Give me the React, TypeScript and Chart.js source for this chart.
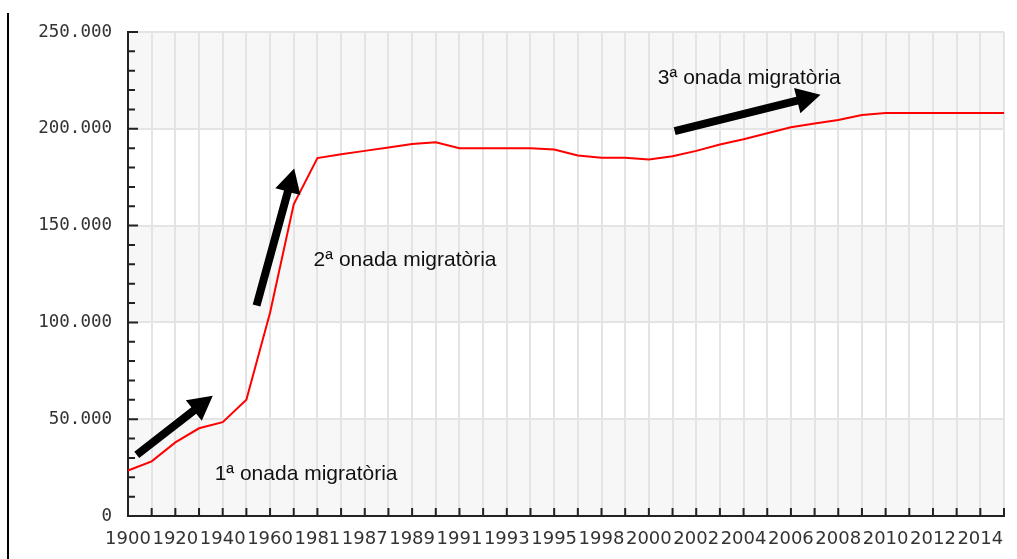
import { useEffect, useRef } from 'react';
import { Chart, registerables } from 'chart.js';

Chart.register(...registerables);

// Categories (years) and population values
const years = [
  '1900', '1910', '1920', '1930', '1940', '1950', '1960', '1970', '1981', '1986',
  '1987', '1988', '1989', '1990', '1991', '1992', '1993', '1994', '1995', '1996',
  '1998', '1999', '2000', '2001', '2002', '2003', '2004', '2005', '2006', '2007',
  '2008', '2009', '2010', '2011', '2012', '2013', '2014', '2015',
];
const population = [
  23500, 28200, 38000, 45300, 48500, 60000, 105000, 161000, 184900, 186900,
  188600, 190300, 192200, 193000, 190000, 190000, 190000, 190000, 189300, 186200,
  185100, 185100, 184200, 185800, 188600, 191900, 194600, 197700, 200800, 202700,
  204600, 207100, 208100, 208100, 208100, 208100, 208100, 208100,
];

const yMax = 250000;
const yMinorStep = 10000;
const yMajorStep = 50000;

// Annotations, expressed in data space: [category index, value]
const annotationTexts = ['1ª onada migratòria', '2ª onada migratòria', '3ª onada migratòria'];
const annotationAnchors = [[3.66, 18600], [7.84, 129000], [22.38, 223100]];
const arrowTails = [[0.37, 31600], [5.43, 108700], [23.09, 198800]];
const arrowTips = [[3.58, 62100], [7.02, 179500], [29.25, 217600]];

function fmt(v: number) {
  return String(v).replace(/\B(?=(\d{3})+(?!\d))/g, '.');
}

const decorPlugin = {
  id: 'decor',
  beforeDraw(chart: any) {
    const { ctx, chartArea, scales } = chart;
    const y = scales.y;
    ctx.save();
    for (let v = 0; v < yMax; v += yMajorStep) {
      const idx = v / yMajorStep;
      if (idx % 2 === 0) {
        const pTop = y.getPixelForValue(v + yMajorStep);
        const pBot = y.getPixelForValue(v);
        ctx.fillStyle = '#f7f7f7';
        ctx.fillRect(chartArea.left, pTop, chartArea.right - chartArea.left, pBot - pTop);
      }
    }
    ctx.restore();
  },
  afterDraw(chart: any) {
    const { ctx, chartArea, scales } = chart;
    const x = scales.x;
    const y = scales.y;
    const { left, bottom } = chartArea;
    ctx.save();
    ctx.strokeStyle = '#222';
    ctx.lineWidth = 2;
    ctx.beginPath();
    for (let i = 0; i < years.length; i++) {
      const px = x.getPixelForValue(i);
      ctx.moveTo(px, bottom);
      ctx.lineTo(px, bottom - 8);
    }
    for (let v = 0; v <= yMax; v += yMinorStep) {
      const py = y.getPixelForValue(v);
      const len = v % yMajorStep === 0 ? 10 : 7;
      ctx.moveTo(left, py);
      ctx.lineTo(left + len, py);
    }
    ctx.stroke();

    // arrows
    ctx.fillStyle = '#000';
    for (let k = 0; k < arrowTails.length; k++) {
      const x1 = x.getPixelForValue(arrowTails[k][0]);
      const y1 = y.getPixelForValue(arrowTails[k][1]);
      const x2 = x.getPixelForValue(arrowTips[k][0]);
      const y2 = y.getPixelForValue(arrowTips[k][1]);
      const dx = x2 - x1;
      const dy = y2 - y1;
      const len = Math.hypot(dx, dy);
      const ux = dx / len;
      const uy = dy / len;
      const nx = -uy;
      const ny = ux;
      const w = 4;
      const L = 24;
      const H = 13;
      const bx = x2 - ux * L;
      const by = y2 - uy * L;
      ctx.beginPath();
      ctx.moveTo(x1 + nx * w, y1 + ny * w);
      ctx.lineTo(bx + nx * w, by + ny * w);
      ctx.lineTo(bx + nx * H, by + ny * H);
      ctx.lineTo(x2, y2);
      ctx.lineTo(bx - nx * H, by - ny * H);
      ctx.lineTo(bx - nx * w, by - ny * w);
      ctx.lineTo(x1 - nx * w, y1 - ny * w);
      ctx.closePath();
      ctx.fill();
    }

    // texts
    ctx.fillStyle = '#111';
    ctx.font = '21px "Liberation Sans", Arial, sans-serif';
    ctx.textAlign = 'left';
    ctx.textBaseline = 'alphabetic';
    for (let k = 0; k < annotationTexts.length; k++) {
      const tx = x.getPixelForValue(annotationAnchors[k][0]);
      const ty = y.getPixelForValue(annotationAnchors[k][1]);
      ctx.fillText(annotationTexts[k], tx, ty);
    }
    ctx.restore();
  },
};

export default function App() {
  const ref = useRef<HTMLCanvasElement | null>(null);
  useEffect(() => {
    if (!ref.current) return;
    const chart = new Chart(ref.current, {
      type: 'line',
      data: {
        labels: years,
        datasets: [
          {
            data: population,
            borderColor: '#ff0000',
            borderWidth: 2,
            pointRadius: 0,
            tension: 0,
            fill: false,
          },
        ],
      },
      options: {
        animation: false,
        responsive: false,
        layout: { padding: { left: 0, right: 13, top: 32, bottom: 0 } },
        plugins: { legend: { display: false }, tooltip: { enabled: false } },
        scales: {
          x: {
            type: 'category',
            offset: false,
            grid: { color: '#e4e4e4', lineWidth: 2, drawTicks: false },
            border: { color: '#222', width: 2 },
            ticks: {
              autoSkip: false,
              maxRotation: 0,
              minRotation: 0,
              padding: 13,
              color: '#333',
              font: { family: 'DejaVu Sans', size: 18 },
              callback: (_v: any, i: number) => (i % 2 === 0 ? years[i] : ''),
            },
            afterFit: (s: any) => {
              s.height = 43;
            },
          },
          y: {
            min: 0,
            max: yMax,
            grid: {
              color: (c: any) =>
                c.tick && c.tick.value % yMajorStep === 0 ? '#e4e4e4' : 'rgba(0,0,0,0)',
              lineWidth: 2,
              drawTicks: false,
            },
            border: { color: '#222', width: 2 },
            ticks: {
              stepSize: yMinorStep,
              autoSkip: false,
              padding: 16,
              color: '#333',
              font: { family: 'DejaVu Sans Mono', size: 17.5 },
              callback: (v: any) => (Number(v) % yMajorStep === 0 ? fmt(Number(v)) : ''),
            },
            afterFit: (s: any) => {
              s.width = 128;
            },
          },
        },
      } as any,
      plugins: [decorPlugin],
    });
    return () => chart.destroy();
  }, []);

  return (
    <div style={{ position: 'fixed', left: 0, top: 0, width: 1017, height: 559, background: '#fff' }}>
      <canvas ref={ref} width={1017} height={559} style={{ display: 'block' }} />
      <div style={{ position: 'absolute', left: 7, top: 13, width: 2, height: 546, background: '#000' }} />
    </div>
  );
}
